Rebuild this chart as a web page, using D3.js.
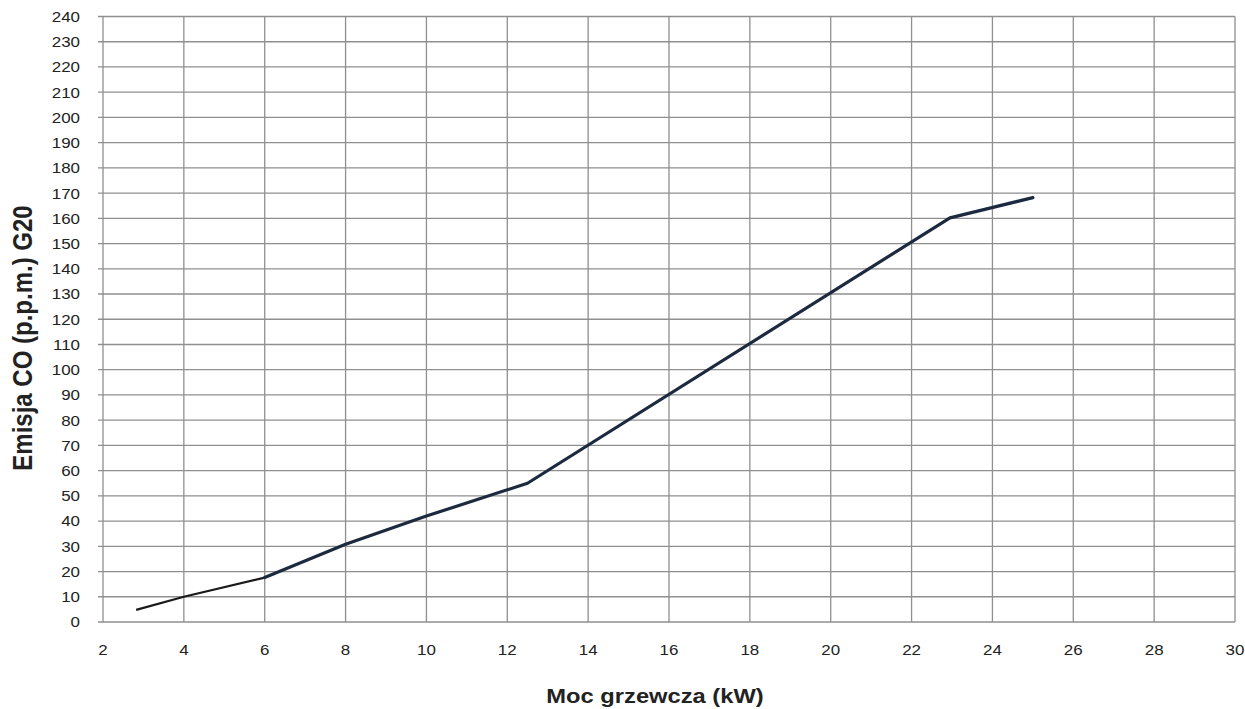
<!DOCTYPE html>
<html><head><meta charset="utf-8">
<script src="https://cdn.jsdelivr.net/npm/d3@7"></script>
<style>body{margin:0;background:#fff}svg{display:block}</style>
</head><body>
<svg id="c" width="1245" height="709"></svg>
<script>
const xTicks = [2,4,6,8,10,12,14,16,18,20,22,24,26,28,30];
const yTicks = d3.range(0, 241, 10);
const thinX = [2.82, 4, 6];
const thinY = [4.8, 10, 17.6];
const thickX = [6, 8, 10, 12.5, 22.95, 25];
const thickY = [17.6, 30.8, 42, 55, 160.2, 168.2];
const xTitle = "Moc grzewcza (kW)";
const yTitle = "Emisja CO (p.p.m.) G20";

const svg = d3.select("#c");
const m = {l:103, r:1235, t:16.5, b:622};
const x = d3.scaleLinear().domain([2,30]).range([m.l, m.r]);
const y = d3.scaleLinear().domain([0,240]).range([m.b, m.t]);
const font = "Arial, 'Liberation Sans', sans-serif";
const sx = 1.13;

// horizontal grid
svg.append("g").selectAll("line").data(yTicks).join("line")
  .attr("x1", m.l - 5).attr("x2", m.r)
  .attr("y1", d => y(d)).attr("y2", d => y(d))
  .attr("stroke", "#8f8f8f").attr("stroke-width", 1.3);
// vertical grid
svg.append("g").selectAll("line").data(xTicks).join("line")
  .attr("x1", d => x(d)).attr("x2", d => x(d))
  .attr("y1", m.t).attr("y2", m.b)
  .attr("stroke", "#8f8f8f").attr("stroke-width", 1.3);

// y labels
svg.append("g").selectAll("text").data(yTicks).join("text")
  .attr("transform", d => `translate(80,${y(d)}) scale(${sx},1)`).attr("dy", "0.36em")
  .attr("text-anchor", "end").attr("font-family", font).attr("font-size", 15)
  .attr("fill", "#222").text(d => d);
// x labels
svg.append("g").selectAll("text").data(xTicks).join("text")
  .attr("transform", d => `translate(${x(d)},655) scale(${sx},1)`)
  .attr("text-anchor", "middle").attr("font-family", font).attr("font-size", 15)
  .attr("fill", "#222").text(d => d);

// titles
svg.append("text").attr("transform", `translate(655,703) scale(${sx},1)`)
  .attr("text-anchor", "middle")
  .attr("font-family", font).attr("font-size", 21).attr("font-weight", "bold")
  .attr("fill", "#222").text(xTitle);
svg.append("text").attr("transform", `translate(32,338) scale(${sx},1) rotate(-90)`)
  .attr("text-anchor", "middle")
  .attr("font-family", font).attr("font-size", 24).attr("font-weight", "bold")
  .attr("fill", "#222").text(yTitle);

const line = d3.line().x(d => x(d[0])).y(d => y(d[1]));
svg.append("path").datum(thinX.map((v,i) => [v, thinY[i]]))
  .attr("d", line).attr("fill", "none").attr("stroke", "#1a1a1a")
  .attr("stroke-width", 2.2).attr("stroke-linecap", "butt");
svg.append("path").datum(thickX.map((v,i) => [v, thickY[i]]))
  .attr("d", line).attr("fill", "none").attr("stroke", "#1b2a3f")
  .attr("stroke-width", 3.2).attr("stroke-linecap", "round").attr("stroke-linejoin", "round");
</script>
</body></html>
